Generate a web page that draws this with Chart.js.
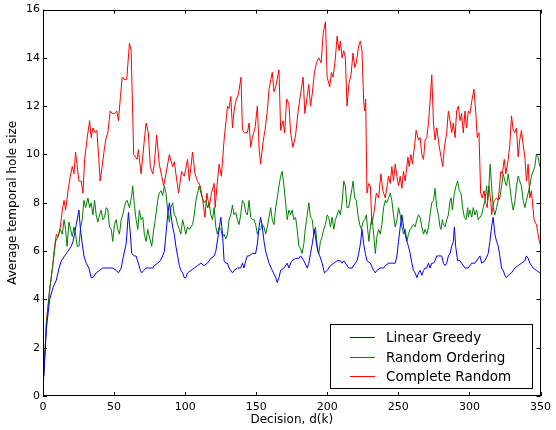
<!DOCTYPE html>
<html>
<head>
<meta charset="utf-8">
<script src="https://cdn.jsdelivr.net/npm/chart.js@4"></script>
<style>
  html, body { margin: 0; padding: 0; background: #fff; }
  canvas { display: block; }
</style>
</head>
<body>
<canvas id="holeChart" width="556" height="430"></canvas>
<script>
// series readings: decision index and average temporal hole size
const seriesLabels = ['Linear Greedy', 'Random Ordering', 'Complete Random'];
const seriesColors = ['#0000ff', '#008000', '#ff0000'];

const greedyX = [0.5, 2.4, 4.7, 7.1, 9.4, 11.3, 12.9, 15.2, 17.6, 19.9, 21.1, 22.2, 23.4, 25.3, 26.2, 27.6, 28.8, 30.4, 32.3, 33.9,
  35.1, 37.4, 39.8, 42.1, 44.5, 46.8, 49.1, 51.5, 53.1, 55.0, 56.6, 58.5, 60.1, 61.5, 62.4, 64.3, 65.5, 67.1, 68.5, 69.5,
  70.9, 72.5, 74.8, 77.2, 78.3, 80.7, 82.5, 84.2, 85.4, 86.5, 87.7, 88.9, 90.0, 91.2, 92.4, 93.5, 94.7, 95.9, 97.0, 98.2,
  99.4, 100.5, 101.7, 104.1, 106.4, 108.7, 111.1, 113.4, 115.7, 118.1, 120.4, 121.6, 123.4, 125.1, 126.3, 127.4, 128.6, 129.8, 130.9, 132.1,
  133.3, 134.4, 136.8, 139.1, 140.3, 141.4, 142.6, 143.8, 145.0, 147.3, 149.6, 150.8, 152.0, 153.1, 154.3, 155.5, 156.6, 159.0, 161.3, 163.7,
  164.8, 166.0, 167.2, 169.5, 171.8, 173.0, 174.2, 175.3, 177.7, 180.0, 181.2, 183.5, 185.9, 187.0, 188.2, 189.4, 191.0, 192.4, 193.3, 194.7,
  196.4, 198.0, 199.9, 202.2, 204.6, 206.9, 209.2, 210.4, 211.6, 212.7, 215.1, 217.4, 219.7, 220.9, 222.1, 223.3, 224.4, 225.6, 226.8, 227.9,
  230.3, 232.6, 233.8, 234.9, 237.3, 239.6, 240.8, 243.1, 245.4, 247.8, 249.0, 250.1, 251.3, 252.5, 253.6, 254.8, 256.0, 257.1, 258.3, 259.5,
  260.6, 261.8, 263.0, 264.2, 265.3, 266.5, 267.7, 268.8, 270.0, 271.2, 272.3, 273.5, 274.7, 275.8, 277.0, 278.2, 279.3, 280.5, 281.7, 282.9,
  284.0, 285.2, 286.4, 287.5, 288.7, 289.4, 290.3, 291.7, 293.4, 294.5, 296.9, 299.2, 301.6, 303.9, 306.2, 307.4, 308.6, 310.9, 313.2, 314.4,
  315.6, 316.7, 317.9, 319.1, 320.3, 321.4, 322.6, 323.8, 324.9, 326.1, 327.3, 329.6, 330.8, 331.9, 334.3, 336.6, 339.0, 340.1, 341.3, 342.5,
  344.8, 347.1, 349.5];
const greedyY = [0.8, 2.8, 4.0, 4.5, 4.8, 5.3, 5.6, 5.8, 6.0, 6.2, 6.4, 6.7, 7.1, 7.7, 7.0, 6.3, 5.8, 5.5, 5.3, 4.9,
  4.9, 5.1, 5.2, 5.3, 5.3, 5.3, 5.3, 5.2, 5.1, 5.3, 5.8, 6.3, 7.6, 6.7, 5.9, 5.8, 5.8, 5.5, 5.2, 5.1,
  5.2, 5.3, 5.3, 5.3, 5.4, 5.5, 5.6, 5.8, 6.0, 6.7, 7.5, 8.0, 7.5, 7.0, 6.7, 6.2, 5.8, 5.4, 5.2, 5.1,
  4.9, 4.9, 5.1, 5.2, 5.3, 5.4, 5.5, 5.4, 5.5, 5.7, 5.8, 6.0, 6.7, 7.4, 6.7, 5.6, 5.5, 5.5, 5.3, 5.2,
  5.1, 5.2, 5.3, 5.3, 5.5, 5.3, 5.6, 5.8, 5.8, 5.9, 5.9, 6.3, 7.0, 7.4, 7.0, 6.4, 6.0, 5.5, 5.2, 4.9,
  4.7, 4.9, 5.2, 5.3, 5.5, 5.3, 5.5, 5.6, 5.7, 5.7, 5.8, 5.6, 5.3, 5.5, 5.9, 6.3, 6.9, 6.3, 6.0, 5.8,
  5.5, 5.1, 5.2, 5.4, 5.5, 5.6, 5.6, 5.5, 5.6, 5.5, 5.3, 5.3, 5.5, 5.6, 5.9, 6.3, 6.9, 6.3, 5.9, 5.6,
  5.5, 5.2, 5.1, 5.2, 5.3, 5.3, 5.4, 5.5, 5.5, 5.5, 5.8, 6.4, 7.0, 7.5, 7.0, 6.7, 6.4, 6.2, 5.9, 5.5,
  5.2, 5.1, 4.9, 5.1, 5.2, 5.0, 5.2, 5.3, 5.3, 5.5, 5.3, 5.5, 5.5, 5.6, 5.8, 5.8, 5.8, 5.8, 5.5, 5.4,
  5.5, 5.8, 5.9, 6.2, 6.4, 7.0, 6.2, 5.6, 5.6, 5.5, 5.3, 5.3, 5.5, 5.5, 5.7, 5.8, 5.5, 5.6, 5.9, 6.4,
  7.0, 7.4, 6.7, 6.4, 6.2, 5.8, 5.3, 5.2, 5.0, 4.9, 5.0, 5.1, 5.2, 5.3, 5.4, 5.5, 5.6, 5.8, 5.7, 5.5,
  5.3, 5.2, 5.1];

const orderingX = [0.5, 2.4, 4.7, 7.1, 8.9, 10.6, 12.2, 13.6, 14.8, 15.9, 16.9, 18.3, 19.4, 20.6, 21.8, 22.9, 24.1, 25.3, 26.5, 27.6,
  28.8, 30.0, 31.6, 32.8, 33.9, 35.1, 36.3, 37.4, 38.6, 39.8, 40.9, 42.1, 43.3, 44.5, 45.6, 46.8, 48.0, 49.1, 50.3, 51.5,
  52.6, 53.8, 55.0, 56.1, 58.0, 59.2, 60.8, 62.4, 63.1, 64.3, 65.5, 66.7, 67.8, 69.0, 70.2, 71.3, 72.5, 73.7, 74.8, 76.5,
  77.9, 79.0, 80.7, 81.8, 83.0, 84.2, 85.4, 86.5, 87.7, 88.9, 90.0, 91.2, 92.4, 93.5, 94.7, 95.9, 97.0, 98.2, 99.4, 100.5,
  101.7, 102.9, 104.1, 105.2, 106.4, 107.6, 108.7, 109.9, 111.1, 112.2, 113.4, 114.6, 115.7, 116.9, 118.1, 119.2, 120.4, 121.6, 122.7, 123.9,
  125.1, 126.3, 127.4, 128.6, 129.8, 130.9, 132.1, 133.3, 134.4, 135.6, 136.8, 137.9, 139.1, 140.3, 141.4, 142.6, 143.8, 145.0, 146.1, 147.3,
  148.5, 149.6, 150.8, 152.0, 153.1, 154.3, 155.5, 156.6, 157.8, 159.0, 160.2, 161.3, 162.5, 163.7, 164.8, 166.0, 167.2, 168.3, 169.5, 170.7,
  171.8, 173.0, 174.2, 175.3, 176.5, 177.7, 178.8, 180.0, 181.2, 182.3, 183.5, 184.7, 185.9, 187.0, 188.2, 189.4, 190.5, 191.7, 192.9, 194.0,
  195.2, 196.4, 197.5, 198.7, 199.9, 201.0, 202.2, 203.4, 204.6, 205.7, 206.9, 208.1, 209.2, 210.4, 211.6, 212.7, 213.9, 215.1, 216.2, 217.4,
  218.1, 219.3, 220.4, 221.6, 222.8, 224.0, 225.1, 226.3, 227.5, 228.4, 229.3, 230.3, 231.4, 232.6, 233.8, 234.9, 236.1, 237.3, 238.4, 239.6,
  240.8, 241.9, 243.1, 244.3, 245.4, 246.6, 247.8, 249.0, 250.1, 251.3, 252.5, 253.6, 254.8, 256.0, 257.1, 258.3, 259.5, 260.6, 261.8, 263.0,
  264.2, 265.3, 266.5, 267.7, 268.8, 270.0, 271.2, 272.3, 273.5, 274.7, 275.8, 277.0, 278.2, 279.3, 280.0, 281.0, 281.7, 282.9, 284.0, 285.2,
  286.4, 287.1, 288.0, 289.4, 290.6, 291.7, 292.9, 294.1, 295.2, 296.4, 297.6, 298.8, 299.2, 300.4, 301.6, 302.7, 303.9, 305.1, 306.2, 307.4,
  308.6, 309.7, 310.9, 312.1, 312.8, 313.7, 314.6, 315.6, 316.7, 317.9, 319.1, 320.3, 321.4, 322.6, 323.8, 324.9, 326.1, 327.3, 328.4, 329.6,
  330.8, 331.9, 333.1, 334.3, 335.4, 336.6, 337.8, 339.0, 340.1, 341.3, 342.5, 343.6, 344.8, 346.0, 347.1, 348.3, 349.5];
const orderingY = [0.8, 3.0, 4.4, 5.5, 6.4, 6.6, 6.9, 6.7, 7.3, 6.9, 6.2, 7.2, 6.9, 6.6, 7.0, 6.7, 6.2, 6.2, 7.0, 7.3,
  8.1, 7.8, 8.2, 7.8, 8.0, 7.5, 8.1, 7.5, 7.2, 7.5, 7.7, 7.3, 7.4, 7.8, 7.7, 7.0, 6.9, 6.4, 7.1, 7.3,
  6.9, 6.7, 7.3, 7.5, 8.0, 8.1, 7.8, 8.3, 8.7, 7.9, 7.3, 6.9, 7.7, 7.3, 7.4, 6.7, 6.4, 6.9, 6.6, 6.2,
  6.9, 7.3, 8.1, 8.4, 8.5, 8.3, 8.7, 8.4, 7.7, 7.2, 7.8, 8.0, 7.5, 7.4, 7.1, 6.9, 6.7, 7.3, 7.0, 6.7,
  7.0, 6.9, 7.0, 7.1, 7.5, 8.1, 8.4, 8.7, 8.4, 8.2, 8.0, 8.1, 7.8, 8.0, 7.5, 7.3, 7.8, 7.0, 6.7, 7.0,
  6.9, 6.6, 6.7, 6.5, 6.7, 7.3, 7.5, 7.9, 7.5, 7.6, 7.3, 7.1, 7.5, 8.1, 8.0, 7.6, 7.5, 8.1, 7.4, 7.3,
  7.3, 7.1, 6.7, 6.9, 6.9, 7.1, 7.0, 6.7, 7.0, 7.4, 7.8, 7.3, 7.1, 7.8, 8.2, 8.7, 9.1, 9.3, 8.7, 8.0,
  7.3, 7.7, 7.5, 7.7, 7.3, 7.4, 6.9, 6.2, 6.1, 5.9, 6.3, 7.0, 7.5, 8.0, 7.4, 7.3, 6.7, 7.0, 6.2, 5.9,
  6.4, 6.6, 6.9, 7.1, 7.5, 7.4, 7.0, 7.4, 6.9, 7.3, 7.5, 7.7, 7.5, 8.0, 8.9, 8.7, 7.8, 7.8, 8.2, 8.6,
  8.9, 8.2, 8.1, 7.5, 7.1, 6.9, 7.2, 7.3, 7.5, 6.9, 6.4, 7.0, 7.4, 6.7, 5.9, 6.6, 6.9, 6.7, 7.1, 7.8,
  8.1, 8.0, 8.2, 8.4, 8.1, 7.5, 7.0, 7.3, 7.8, 7.5, 7.0, 6.7, 6.9, 6.4, 6.7, 6.9, 7.0, 7.1, 7.0, 7.3,
  7.5, 7.4, 7.0, 6.7, 6.9, 6.7, 7.0, 7.5, 8.0, 8.1, 8.6, 7.8, 7.5, 7.0, 6.9, 7.3, 7.1, 7.0, 7.3, 7.5,
  8.1, 8.2, 7.7, 8.4, 8.7, 8.9, 8.5, 8.4, 7.8, 7.4, 7.3, 7.8, 7.4, 7.7, 7.4, 7.8, 7.5, 7.7, 7.3, 7.4,
  7.5, 7.8, 8.1, 8.7, 8.1, 8.7, 9.6, 8.7, 7.8, 7.5, 7.8, 8.1, 8.2, 8.7, 9.2, 8.9, 8.7, 9.2, 8.7, 8.1,
  7.7, 8.0, 8.7, 9.1, 8.9, 8.7, 8.1, 7.8, 8.1, 8.4, 8.7, 9.1, 9.3, 9.5, 10.0, 9.9, 9.5];

const completeX = [0.5, 2.4, 4.7, 6.6, 8.2, 9.4, 10.6, 12.2, 13.6, 14.8, 15.9, 17.6, 19.2, 20.6, 21.8, 22.9, 23.9, 25.3, 26.9, 28.1,
  29.3, 30.9, 32.8, 33.9, 35.1, 36.7, 37.9, 39.3, 40.2, 41.6, 43.3, 44.5, 45.6, 47.3, 48.7, 50.3, 51.9, 53.1, 54.5, 55.7,
  57.3, 58.9, 60.8, 62.0, 63.8, 66.2, 67.1, 69.0, 71.3, 72.5, 74.1, 75.5, 77.2, 78.3, 80.0, 81.8, 83.5, 84.9, 86.5, 88.9,
  91.2, 92.4, 93.5, 95.4, 97.5, 99.4, 101.7, 102.9, 105.2, 106.9, 108.7, 110.6, 112.2, 113.9, 115.3, 116.9, 118.5, 120.4, 121.1, 122.7,
  123.9, 125.5, 127.4, 129.8, 130.9, 132.1, 133.3, 134.4, 135.6, 137.5, 139.3, 140.3, 142.1, 143.8, 145.0, 146.1, 147.3, 149.2, 150.8, 152.0,
  153.1, 155.0, 156.2, 157.8, 159.0, 161.3, 162.5, 163.7, 166.0, 167.2, 168.8, 170.0, 171.4, 173.0, 174.2, 175.8, 177.7, 179.5, 181.2, 183.0,
  184.2, 185.9, 187.0, 188.2, 189.4, 191.0, 192.4, 194.0, 195.7, 197.1, 198.7, 199.9, 201.7, 202.9, 204.1, 205.7, 206.9, 208.3, 209.2, 210.4,
  211.6, 212.7, 213.9, 215.1, 216.7, 218.1, 219.3, 220.4, 222.1, 223.3, 224.4, 225.6, 226.3, 227.0, 227.9, 229.1, 230.3, 231.4, 233.1, 234.5,
  236.1, 237.7, 239.1, 240.8, 243.1, 244.3, 245.4, 246.6, 247.8, 249.0, 250.1, 251.3, 252.5, 253.6, 254.8, 256.7, 257.6, 258.8, 259.9, 261.3,
  262.5, 264.1, 265.3, 266.5, 267.7, 268.8, 270.0, 271.2, 272.3, 273.5, 274.7, 275.8, 277.0, 278.6, 280.0, 281.2, 282.4, 284.0, 285.2, 286.4,
  287.5, 288.7, 289.9, 291.0, 292.2, 293.4, 294.5, 295.7, 296.9, 298.0, 299.2, 300.4, 301.6, 303.2, 304.4, 305.5, 306.7, 307.9, 309.0, 310.2,
  311.4, 312.5, 313.7, 315.1, 315.6, 317.4, 319.1, 320.3, 322.1, 323.1, 324.5, 325.6, 327.3, 328.4, 329.6, 330.8, 331.9, 333.1, 334.3, 335.4,
  336.6, 337.8, 339.0, 340.1, 341.3, 342.5, 343.6, 345.5, 347.1, 348.3, 349.5];
const completeY = [0.8, 3.1, 4.4, 5.3, 6.2, 6.7, 6.6, 7.0, 7.7, 8.1, 7.7, 8.5, 9.1, 9.5, 9.2, 10.1, 9.6, 8.9, 8.9, 8.4,
  9.8, 10.6, 11.4, 10.7, 11.1, 10.9, 11.0, 9.8, 8.9, 9.5, 10.3, 10.7, 10.9, 11.8, 11.7, 11.7, 11.8, 11.4, 12.4, 13.2,
  13.1, 13.1, 14.6, 14.3, 10.0, 9.8, 10.2, 9.2, 10.6, 11.3, 10.9, 9.5, 9.2, 9.6, 10.8, 9.6, 9.1, 8.7, 9.2, 10.0,
  9.5, 9.7, 9.2, 8.4, 9.3, 9.1, 9.8, 8.9, 10.1, 9.2, 8.9, 8.7, 8.2, 7.4, 8.4, 7.8, 8.4, 8.8, 7.8, 8.9,
  9.6, 9.1, 10.6, 12.0, 11.9, 12.4, 11.1, 11.8, 12.2, 12.5, 13.2, 11.0, 10.9, 10.9, 11.3, 10.3, 10.7, 11.1, 12.0, 10.3,
  9.6, 10.6, 11.0, 11.8, 12.7, 13.4, 12.6, 12.8, 13.5, 11.0, 11.4, 10.9, 12.3, 12.1, 10.9, 10.3, 10.8, 11.8, 12.5, 13.2,
  11.7, 12.4, 12.9, 12.0, 12.5, 13.4, 13.8, 14.0, 13.8, 15.0, 15.5, 13.2, 12.8, 13.4, 13.2, 14.0, 14.9, 14.3, 14.7, 14.0,
  14.3, 14.0, 12.0, 12.9, 13.3, 14.2, 13.6, 13.8, 14.5, 14.7, 14.3, 12.2, 11.8, 12.3, 8.4, 8.8, 8.7, 7.1, 7.7, 8.4,
  8.2, 9.2, 8.5, 8.2, 9.1, 8.8, 9.5, 8.9, 9.6, 9.1, 8.7, 9.1, 8.6, 9.3, 8.9, 9.9, 9.5, 10.0, 9.6, 10.3,
  11.0, 10.6, 10.7, 10.0, 9.8, 10.6, 10.7, 11.3, 12.2, 13.3, 11.3, 10.6, 11.1, 10.4, 9.9, 9.5, 10.3, 10.9, 11.8, 11.4,
  10.9, 11.3, 10.7, 11.8, 12.0, 11.4, 11.7, 10.9, 11.8, 11.1, 11.8, 11.7, 12.2, 12.7, 11.8, 10.7, 10.9, 8.4, 8.2, 8.5,
  8.0, 7.8, 8.7, 8.0, 7.5, 8.1, 8.2, 8.1, 9.3, 9.2, 9.8, 9.2, 9.8, 10.4, 11.6, 11.0, 10.9, 11.1, 9.9, 10.6,
  11.0, 10.4, 9.9, 8.9, 9.6, 8.2, 8.5, 7.3, 7.1, 6.7, 6.3];

// axis ticks
const xTicks = [0, 50, 100, 150, 200, 250, 300, 350];
const yTicks = [0, 2, 4, 6, 8, 10, 12, 14, 16];

const font = "'DejaVu Sans', sans-serif";

function toPoints(xs, ys) {
    return xs.map((x, i) => ({ x: x, y: ys[i] }));
}

// matplotlib style box with inward ticks and a legend in the lower right
const framePlugin = {
    id: 'frame',
    afterDraw(chart) {
        const ctx = chart.ctx;
        const a = chart.chartArea;
        const xs = chart.scales.x;
        const ys = chart.scales.y;
        ctx.save();
        ctx.strokeStyle = '#000';
        ctx.lineWidth = 1;
        ctx.strokeRect(Math.round(a.left) + 0.5, Math.round(a.top) + 0.5,
            Math.round(a.right - a.left) - 1, Math.round(a.bottom - a.top) - 1);
        ctx.beginPath();
        xTicks.forEach(v => {
            const px = Math.round(xs.getPixelForValue(v)) + 0.5;
            ctx.moveTo(px, a.bottom); ctx.lineTo(px, a.bottom - 4);
            ctx.moveTo(px, a.top); ctx.lineTo(px, a.top + 4);
        });
        yTicks.forEach(v => {
            const py = Math.round(ys.getPixelForValue(v)) + 0.5;
            ctx.moveTo(a.left, py); ctx.lineTo(a.left + 4, py);
            ctx.moveTo(a.right, py); ctx.lineTo(a.right - 4, py);
        });
        ctx.stroke();

        // legend
        const bx = 330.5, by = 324.5, bw = 202, bh = 64;
        ctx.fillStyle = '#fff';
        ctx.fillRect(bx, by, bw, bh);
        ctx.strokeStyle = '#000';
        ctx.strokeRect(bx, by, bw, bh);
        ctx.font = '13.5px ' + font;
        ctx.textBaseline = 'middle';
        seriesLabels.forEach((label, i) => {
            const ly = Math.round(337 + i * 19.5) + 0.5;
            ctx.strokeStyle = seriesColors[i];
            ctx.beginPath();
            ctx.moveTo(350, ly);
            ctx.lineTo(375, ly);
            ctx.stroke();
            ctx.fillStyle = '#000';
            ctx.fillText(label, 386, ly + 1);
        });
        ctx.restore();
    }
};

const datasets = [
    toPoints(greedyX, greedyY),
    toPoints(orderingX, orderingY),
    toPoints(completeX, completeY)
].map((pts, i) => ({
    label: seriesLabels[i],
    data: pts,
    borderColor: seriesColors[i],
    borderWidth: 1,
    pointRadius: 0,
    tension: 0,
    fill: false
}));

new Chart(document.getElementById('holeChart').getContext('2d'), {
    type: 'line',
    data: { datasets: datasets },
    options: {
        responsive: false,
        animation: false,
        layout: { padding: { top: 9, right: 14, left: 0, bottom: 0 } },
        plugins: {
            legend: { display: false },
            tooltip: { enabled: false }
        },
        scales: {
            x: {
                type: 'linear',
                min: 0,
                max: 350,
                afterFit: scale => { scale.height = 34; },
                afterBuildTicks: scale => { scale.ticks = xTicks.map(v => ({ value: v })); },
                grid: { display: false, drawTicks: false },
                border: { display: false },
                ticks: { color: '#000', padding: 5, maxRotation: 0, font: { family: font, size: 11 } },
                title: {
                    display: true,
                    text: 'Decision, d(k)',
                    color: '#000',
                    padding: { top: 0, bottom: 3 },
                    font: { family: font, size: 12 }
                }
            },
            y: {
                type: 'linear',
                min: 0,
                max: 16,
                afterFit: scale => { scale.width = 43; },
                afterBuildTicks: scale => { scale.ticks = yTicks.map(v => ({ value: v })); },
                grid: { display: false, drawTicks: false },
                border: { display: false },
                ticks: { color: '#000', padding: 3, font: { family: font, size: 11 } },
                title: {
                    display: true,
                    text: 'Average temporal hole size',
                    color: '#000',
                    padding: { top: 6, bottom: 0 },
                    font: { family: font, size: 12 }
                }
            }
        }
    },
    plugins: [framePlugin]
});
</script>
</body>
</html>
